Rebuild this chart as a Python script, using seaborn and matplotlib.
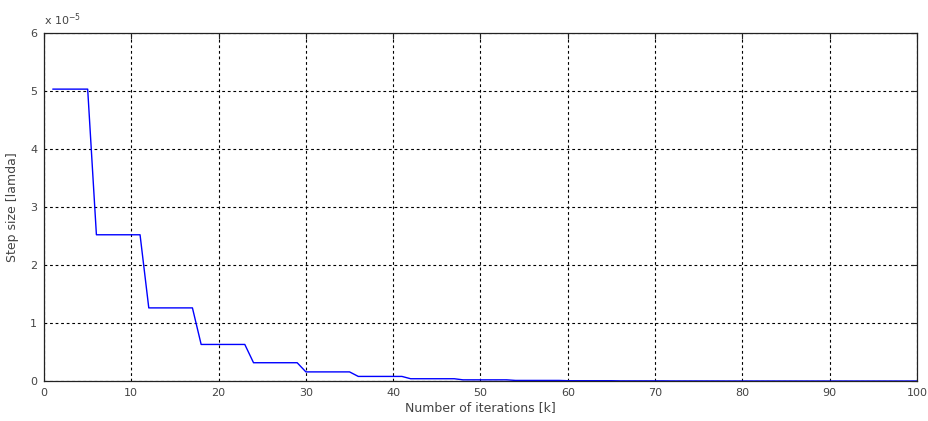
import numpy as np
import pandas as pd
import matplotlib
matplotlib.use("Agg")
import matplotlib.pyplot as plt
import seaborn as sns

# Step-size schedule: each plateau level and how many iterations it is held
plateau_levels = [5.03e-5, 2.52e-5, 1.26e-5, 0.63e-5, 0.315e-5, 0.157e-5,
                  0.079e-5, 0.039e-5, 0.020e-5, 0.010e-5, 0.005e-5, 0.0025e-5,
                  0.0012e-5, 0.0006e-5, 0.0003e-5, 0.00015e-5, 0.00008e-5]
plateau_lengths = [5, 6, 6, 6, 6, 6, 6, 6, 6, 6, 6, 6, 6, 6, 6, 6, 5]
first_iteration = 1

x_ticks = [0, 10, 20, 30, 40, 50, 60, 70, 80, 90, 100]
y_ticks = [0, 1, 2, 3, 4, 5, 6]
y_scale = 1e-5

step = np.repeat(plateau_levels, plateau_lengths)
iters = np.arange(first_iteration, first_iteration + len(step))
df = pd.DataFrame({"k": iters, "lamda": step / y_scale})

sns.set_style("white")
plt.rcParams["font.family"] = ["DejaVu Sans"]

fig = plt.figure(figsize=(9.29, 4.21), dpi=100)
ax = fig.add_axes([0.0474, 0.095, 0.9396, 0.827])

sns.lineplot(data=df, x="k", y="lamda", ax=ax, color="#0000ff",
             linewidth=1.0, estimator=None)

ax.set_xlim(0, 100)
ax.set_ylim(0, 6)
ax.set_xticks(x_ticks)
ax.set_yticks(y_ticks)
ax.grid(True, color="black", linestyle=(0, (2.5, 2.5)), linewidth=0.8)
ax.set_axisbelow(True)

for s in ax.spines.values():
    s.set_color("#222222")
    s.set_linewidth(0.9)

ax.tick_params(axis="both", direction="in", length=4, width=0.8,
               labelsize=8, colors="#222222", labelcolor="#444444",
               top=True, right=True, pad=5)

ax.set_xlabel("Number of iterations [k]", fontsize=9, color="#444444", labelpad=2)
ax.set_ylabel("Step size [lamda]", fontsize=9, color="#444444", labelpad=8)

ax.text(0.0, 1.015, r"x 10$^{-5}$", transform=ax.transAxes, fontsize=8,
        color="#444444", ha="left", va="bottom")

fig.savefig("out.png", dpi=100, facecolor="white")
